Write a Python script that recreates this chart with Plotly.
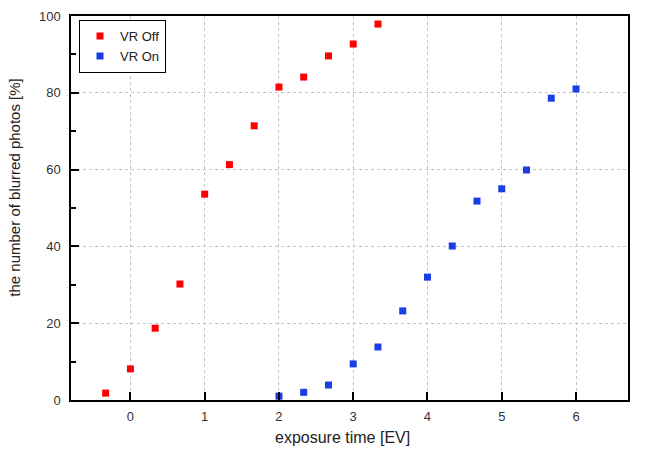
import plotly.graph_objects as go

off_x = [-1/3, 0, 1/3, 2/3, 1, 4/3, 5/3, 2, 7/3, 8/3, 3, 10/3]
off_y = [1.8, 8.1, 18.7, 30.2, 53.6, 61.3, 71.4, 81.5, 84.1, 89.6, 92.7, 97.9]
on_x = [2, 7/3, 8/3, 3, 10/3, 11/3, 4, 13/3, 14/3, 5, 16/3, 17/3, 6]
on_y = [1.0, 2.0, 3.9, 9.4, 13.8, 23.2, 32.0, 40.1, 51.8, 55.0, 59.9, 78.6, 81.0]

fig = go.Figure()
fig.add_trace(go.Scatter(x=off_x, y=off_y, mode="markers", name="VR Off",
                         marker=dict(symbol="square", size=7, color="#ff0000", line=dict(width=0))))
fig.add_trace(go.Scatter(x=on_x, y=on_y, mode="markers", name="VR On",
                         marker=dict(symbol="square", size=7, color="#1a3ee6", line=dict(width=0))))

axis_common = dict(showline=True, linecolor="black", linewidth=1.5, mirror=True,
                   ticks="inside", tickcolor="black", ticklen=8, tickwidth=1.5,
                   showgrid=True, gridcolor="#c4c4c4", griddash="dot", gridwidth=1,
                   zeroline=False, tickfont=dict(color="#333333", size=13), automargin=False)
fig.update_xaxes(range=[-0.8, 6.7], tickvals=[0, 1, 2, 3, 4, 5, 6], ticklabelstandoff=4, **axis_common)
fig.update_yaxes(range=[0, 100], tickvals=[0, 20, 40, 60, 80, 100], ticklabelstandoff=6,
                 minor=dict(tickvals=[10, 30, 50, 70, 90], ticks="inside", ticklen=5, tickcolor="black", showgrid=False),
                 **axis_common)
fig.add_annotation(text="exposure time [EV]", xref="paper", yref="paper", x=0.4874, y=-0.0964,
                   showarrow=False, xanchor="center", yanchor="middle", font=dict(size=16, color="#222222"))
fig.add_annotation(text="the number of blurred photos [%]", xref="paper", yref="paper", x=-0.1005, y=0.553,
                   showarrow=False, textangle=-90, xanchor="center", yanchor="middle", font=dict(size=15, color="#222222"))
fig.update_layout(width=655, height=455, margin=dict(l=71, r=27, t=16, b=55, autoexpand=False),
                  paper_bgcolor="white", plot_bgcolor="white",
                  font=dict(family="Liberation Sans, Arial, sans-serif", size=13, color="#222222"),
                  showlegend=True,
                  legend=dict(x=0.014, y=0.99, xanchor="left", yanchor="top",
                              bordercolor="black", borderwidth=1.2, bgcolor="white",
                              font=dict(size=13), itemwidth=30))
fig.write_html("out.html", config={"displayModeBar": False},
               post_script="document.body.style.margin='0px';")
